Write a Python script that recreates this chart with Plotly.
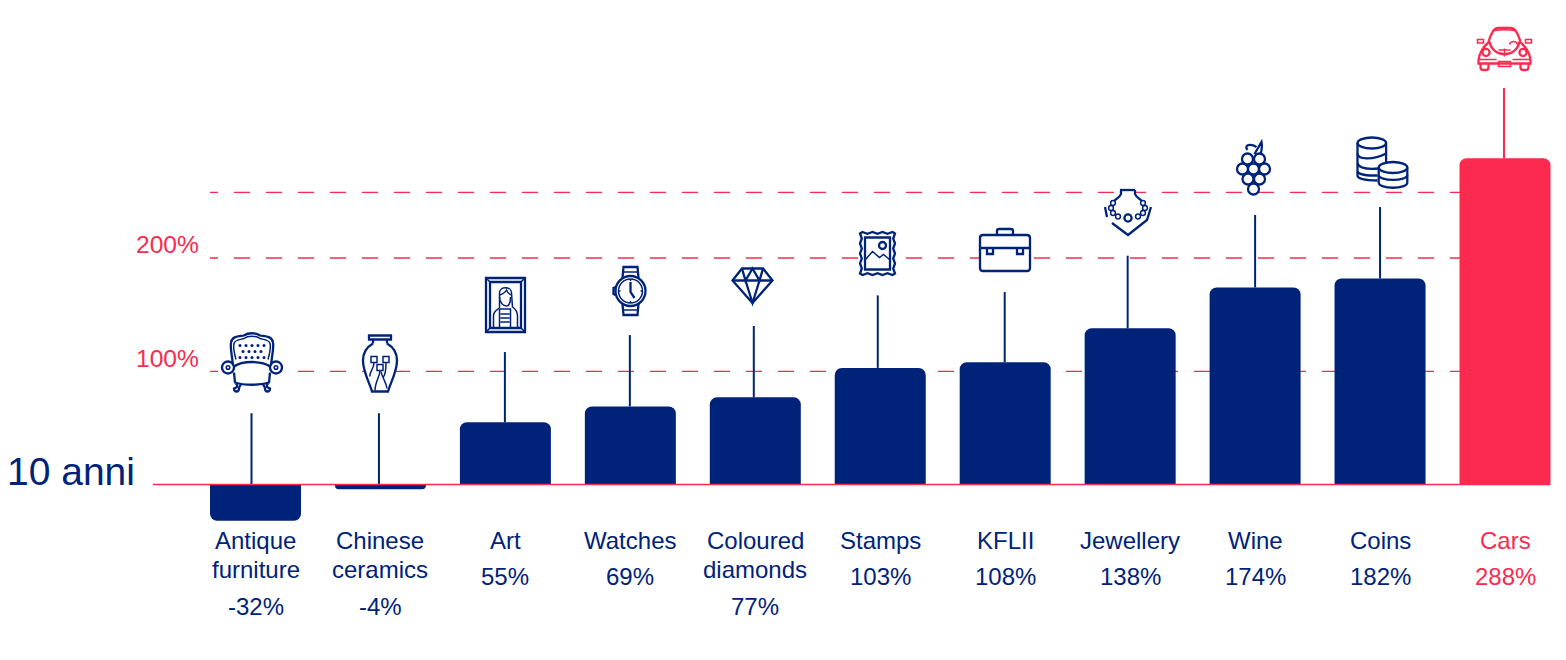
import re
import plotly.graph_objects as go

# 数据
categories = ['Antique<br>furniture', 'Chinese<br>ceramics', 'Art', 'Watches', 'Coloured<br>diamonds',
              'Stamps', 'KFLII', 'Jewellery', 'Wine', 'Coins', 'Cars']
values = [-32, -4, 55, 69, 77, 103, 108, 138, 174, 182, 288]
value_labels = ['-32%', '-4%', '55%', '69%', '77%', '103%', '108%', '138%', '174%', '182%', '288%']
stem_tops = [63, 63, 117, 132, 140, 167, 170, 202, 238, 245, 350]
ref_lines = [100, 200, 258]
tick_values = [100, 200]
tick_labels = ['100%', '200%']

W, H = 1566, 660
NAVY = '#00237a'
PINK = '#fb2a4e'
FONT = 'Liberation Sans'

# 比例: 0% 在 y=484.5, 每 1% = 1.133px, 柱间距 124.95px
Y_ZERO, Y_SCALE = 484.6, 1.133
X_ZERO, X_STEP = 255.5, 124.95
stem_shift = [-4, -1.5, -0.5, -0.5, -1.5, -2.5, -0.5, -2.5, 0, 0, -1]  # px


def px2x(px):
    return (px - X_ZERO) / X_STEP


colors = [PINK if c == 'Cars' else NAVY for c in categories]
idx = list(range(len(categories)))


# ---------- 图标小工具 (局部坐标, y 向下, 单位 px) ----------
def circle(cx, cy, r, ry=None):
    ry = r if ry is None else ry
    k = 0.5523
    return (f'M{cx - r},{cy} C{cx - r},{cy - k * ry} {cx - k * r},{cy - ry} {cx},{cy - ry} '
            f'C{cx + k * r},{cy - ry} {cx + r},{cy - k * ry} {cx + r},{cy} '
            f'C{cx + r},{cy + k * ry} {cx + k * r},{cy + ry} {cx},{cy + ry} '
            f'C{cx - k * r},{cy + ry} {cx - r},{cy + k * ry} {cx - r},{cy} Z')


def rect(x0, y0, x1, y1):
    return f'M{x0},{y0} L{x1},{y0} L{x1},{y1} L{x0},{y1} Z'


def flip(path):
    # pixel 模式下 y 向上, 这里翻转
    return re.sub(r'(-?[\d.]+),(-?[\d.]+)', lambda m: f'{m[1]},{-float(m[2]):.2f}', path)


def stamp_edge():
    pts = []
    for i in range(7):
        pts.append((-15 + i * 5, -21.5 + (i % 2) * 1.8))
    for i in range(9):
        pts.append((17.5 - (i % 2) * 1.8, -20 + i * 5))
    for i in range(7):
        pts.append((15 - i * 5, 21.5 - (i % 2) * 1.8))
    for i in range(9):
        pts.append((-17.5 + (i % 2) * 1.8, 20 - i * 5))
    return 'M' + ' L'.join(f'{x},{y}' for x, y in pts) + ' Z'


chair_dots = ' '.join(circle(x, y, 0.8) for y, xs in [(-17, (-12, -6, 0, 6, 12)), (-11, (-9, -3, 3, 9)),
                                                      (-5, (-12, -6, 0, 6, 12))] for x in xs)
grape_xy = [(-6, -8), (6, -8), (-11, 2), (0, 2), (11, 2), (-5.5, 12), (6, 12), (0, 22)]

# (cx, cy, color, white silhouettes, strokes thick, strokes thin)
icons = [
    (252, 362.5, NAVY,
     ['M-19,3 C-20,-8 -22,-14 -21,-20 C-20,-27 -12,-26 -8,-27 C-4,-30 4,-30 8,-27 C12,-26 20,-27 21,-20 '
      'C22,-14 20,-8 19,3 L24,-1 C31,-1 32,10 26,12 L19,20 L17,28 L-17,28 L-19,20 L-26,12 C-32,10 -31,-1 -24,-1 Z'],
     ['M-19,3 C-20,-8 -22,-14 -21,-20 C-20,-27 -12,-26 -8,-27 C-4,-30 4,-30 8,-27 C12,-26 20,-27 21,-20 '
      'C22,-14 20,-8 19,3',
      'M-18,4 C-10,-2 10,-2 18,4',
      circle(-24, 5, 6), circle(24, 5, 6),
      'M-18,10 L-17,20 C-8,23 8,23 17,20 L18,10',
      'M-16,21 C-13,25 -16,25 -18,26 C-18,30 -13,30 -13,26 C-13,24 -12,23 -11,22',
      'M16,21 C13,25 16,25 18,26 C18,30 13,30 13,26 C13,24 12,23 11,22'],
     ['M-16,-3 C-18,-10 -19,-15 -18,-19 C-17,-23 -11,-23 -8,-24 C-4,-27 4,-27 8,-24 C11,-23 17,-23 18,-19 '
      'C19,-15 18,-10 16,-3',
      circle(-24, 5, 1.8), circle(24, 5, 1.8), chair_dots]),
    (380, 363.5, NAVY,
     ['M-7,-24 L-11,-24 L-11,-28 L11,-28 L11,-24 L7,-24 L7,-20 C14,-16 17,-10 17,-3 C17,8 11,18 8,28 '
      'L-8,28 C-11,18 -17,8 -17,-3 C-17,-10 -14,-16 -7,-20 Z'],
     ['M-11,-28 L11,-28 L11,-24 L-11,-24 Z', 'M-7,-24 L-7,-20 M7,-24 L7,-20',
      'M-7,-20 C-14,-16 -17,-10 -17,-3 C-17,8 -11,18 -8,28 L8,28 C11,18 17,8 17,-3 C17,-10 14,-16 7,-20'],
     [rect(-9, -7, -3, -1), rect(3, -7, 9, -1), rect(-3, 1, 3, 7),
      'M-6,-1 C-6,6 -11,8 -10,13', 'M0,7 C0,13 -5,18 -5,27', 'M3,14 C5,12 6,8 6,-1', 'M1,8 C2,14 6,18 7,25']),
    (505.5, 305, NAVY,
     [rect(-19.5, -27, 19.5, 27)],
     [rect(-19.5, -27, 19.5, 27), rect(-15.5, -23, 15.5, 23)],
     ['M-19.5,-27 L-15.5,-23 M19.5,-27 L15.5,-23 M-19.5,27 L-15.5,23 M19.5,27 L15.5,23',
      'M-12,22 L-12,11 C-12,6 -9,5 -6,3 L-6,-12 C-6,-19 6,-19 6,-12 L7,2 C10,4 12,6 12,11 L12,22',
      'M-6,-10 C-2,-11 0,-13 1,-15 C2,-12 3,-11 6,-10 M-6,-8 C-6,-2 -2,1 1,1 C3,1 5,-2 5,-8',
      'M-6,4 L5,4 L5,22 M-6,4 L-6,22 M-5,9 L4,9 M-5,13 L4,13 M-5,17 L4,17']),
    (630.5, 291, NAVY,
     ['M-8,-12 L-7,-24 L7,-24 L8,-12 L16,0 L8,12 L7,24 L-7,24 L-8,12 L-17,0 Z'],
     [circle(0, 0, 15), 'M-8,-13 L-7,-24 L7,-24 L8,-13 M-8,13 L-7,24 L7,24 L8,13',
      'M-15,-4 L-17,-3 L-17,3 L-15,4', 'M0,-9 L0,1 L4,7'],
     [circle(0, 0, 12), 'M-7,-19 L7,-19 M-7,19 L7,19',
      'M0,-12 L0,-10 M0,10 L0,12 M-12,0 L-10,0 M10,0 L12,0']),
    (752.5, 285.5, NAVY,
     ['M-10.5,-17 L10.5,-17 L20,-5 L0,17.5 L-20,-5 Z'],
     ['M-10.5,-17 L10.5,-17 L20,-5 L0,17.5 L-20,-5 Z', 'M-20,-5 L20,-5',
      'M-10.5,-17 L-7,-5 L0,-17 L7,-5 L10.5,-17', 'M-7,-5 L0,17.5 L7,-5'],
     []),
    (877.5, 253.5, NAVY,
     [rect(-17.5, -21.5, 17.5, 21.5)],
     [stamp_edge(), rect(-12.5, -16, 12.5, 16), circle(5, -8, 3.5)],
     ['M-12,6 L-5,-2 L2,4 L6,1 L12,6']),
    (1005, 250, NAVY,
     ['M-25,-15 L25,-15 L25,21 L-25,21 Z M-9,-15 L-9,-21 L9,-21 L9,-15 Z'],
     ['M-22,-15 L22,-15 Q25,-15 25,-12 L25,18 Q25,21 22,21 L-22,21 Q-25,21 -25,18 L-25,-12 Q-25,-15 -22,-15 Z',
      'M-8,-15 L-8,-19 Q-8,-21 -6,-21 L6,-21 Q8,-21 8,-19 L8,-15',
      'M-25,-2 L25,-2', 'M-18,-2 L-18,4 L-12,4 L-12,-2', 'M12,-2 L12,4 L18,4 L18,-2'],
     []),
    (1128, 213, NAVY,
     ['M-8,-23 L7,-23 L10,-12 L23,-6 L19,7 L0,22 L-16,10 L-23,-6 L-10,-12 Z'],
     ['M-23,-6 L-21,4', 'M-16,10 L0,22 L19,7 L23,-6', 'M-8,-23 L7,-23', 'M-7,-23 L-7,-19 C-8,-16 -11,-15 -14,-12',
      'M7,-23 L7,-19 C8,-16 11,-15 14,-12', circle(0, 5, 3.6)],
     [circle(-15, -10, 2.4), circle(-17, -5, 2.4), circle(-15, 0, 2.4), circle(-10, 3.5, 2.4),
      circle(15, -10, 2.4), circle(17, -5, 2.4), circle(15, 0, 2.4), circle(10, 3.5, 2.4)]),
    (1253.5, 167, NAVY,
     [circle(x, y, 5.5) for x, y in grape_xy],
     [circle(x, y, 5.5) for x, y in grape_xy] + ['M1,-13 L8,-25 C9,-20 8,-16 7,-12', 'M-6,-17 C-10,-22 -3,-24 3,-20'],
     []),
    (1382.5, 162.5, NAVY,
     ['M-25,-19.5 C-25,-27 3.6,-27 3.6,-19.5 L3.6,0 L-3,18 L-25,14 Z',
      'M-3.8,5 C-3.8,-2 24.8,-2 24.8,5 L24.8,20 C24.8,27 -3.8,27 -3.8,20 Z'],
     [circle(-10.7, -19.5, 14.3, 5.5), 'M-25,-19.5 L-25,13 C-25,16 -18,18 -5,18',
      'M3.6,-19.5 L3.6,0',
      'M-25,-9 C-25,-3 -10,-2 3.6,-9', 'M-25,1 C-23,6 -15,7 -4,6', 'M-25,9 C-23,13 -14,13 -5,13',
      circle(10.5, 5, 14.3, 5.5), 'M-3.8,5 L-3.8,20 C-3.8,27 24.8,27 24.8,20 L24.8,5',
      'M-3.8,12.5 C-3.8,19 24.8,19 24.8,12.5'],
     []),
    (1504.5, 49.5, PINK,
     ['M-15,-8 C-12,-16 -10,-21.5 -5,-21.5 L5,-21.5 C10,-21.5 12,-16 15,-8 L26,10 L26,14 L16,21 L-16,21 L-26,14 L-26,10 Z'],
     ['M-16,-8 C-13,-16 -11,-21.5 -6,-21.5 L6,-21.5 C11,-21.5 13,-16 16,-8',
      'M-15,-8 C-20,-4 -25,2 -26,11 L-26,14 L26,14 L26,11 C25,2 20,-4 15,-8',
      'M-15,-8 C-12,9 12,9 15,-8',
      circle(-18.5, 3, 3.6), circle(18.5, 3, 3.6),
      'M-24,14 L-24,18 Q-24,20.5 -21,20.5 L-19,20.5 Q-16,20.5 -16,18 L-16,14',
      'M24,14 L24,18 Q24,20.5 21,20.5 L19,20.5 Q16,20.5 16,18 L16,14'],
     ['M-11,-19 C-4,-20 4,-20 11,-19', 'M0,-1 L0,7', 'M-6,0.5 L6,0.5', 'M5,-5 C6,-9 12,-9 13,-5',
      rect(-27, -10, -21, -6.5), rect(21, -10, 27, -6.5),
      'M-26,10 L-8,10 M8,10 L26,10', rect(-6, 12, 6, 17)]),
]

# ---------- 绘图 ----------
fig = go.Figure()

fig.add_trace(go.Bar(x=idx, y=values, width=91 / X_STEP, marker=dict(color=colors, line=dict(width=0))))

for i, v, top, shift, c in zip(idx, values, stem_tops, stem_shift, colors):
    fig.add_trace(go.Scatter(x=[i + shift / X_STEP] * 2, y=[max(v, 0), top], mode='lines',
                             line=dict(color=c, width=2)))

shapes = []
for v in ref_lines:
    # 从右往左画, 让虚线相位和原图一致
    shapes.append(dict(type='line', layer='below', xref='x', yref='y', x0=px2x(1466), x1=px2x(210), y0=v, y1=v,
                       line=dict(color=PINK, width=1.3, dash='16px,16px')))
shapes.append(dict(type='line', layer='above', xref='x', yref='y', x0=px2x(153), x1=px2x(1550), y0=0, y1=0,
                   line=dict(color=PINK, width=1.5)))

for cx, cy, color, fills, thick, thin in icons:
    base = dict(type='path', layer='above', xref='paper', yref='paper', xsizemode='pixel', ysizemode='pixel',
                xanchor=cx / W, yanchor=1 - cy / H)
    for p in fills:
        shapes.append(dict(base, path=flip(p), fillcolor='white', line=dict(width=0)))
    for p in thick:
        shapes.append(dict(base, path=flip(p), line=dict(color=color, width=2.3)))
    for p in thin:
        shapes.append(dict(base, path=flip(p), line=dict(color=color, width=1.5)))

annotations = []
for i, name, label, c in zip(idx, categories, value_labels, colors):
    lines = name.split('<br>')
    for k, line in enumerate(lines):
        annotations.append(dict(x=i, y=0, xref='x', yref='y', text=line, showarrow=False, yanchor='top',
                                yshift=-(40 + 29 * k), font=dict(family=FONT, size=24, color=c)))
    annotations.append(dict(x=i, y=0, xref='x', yref='y', text=label, showarrow=False, yanchor='middle',
                            yshift=-(121.5 if len(lines) == 2 else 91.5),
                            font=dict(family=FONT, size=24, color=c)))
for v, label, dy in zip(tick_values, tick_labels, [13, 14]):
    annotations.append(dict(x=px2x(201), y=v, xref='x', yref='y', text=label, showarrow=False, xanchor='right',
                            yanchor='middle', yshift=dy, font=dict(family=FONT, size=24.6, color=PINK)))
annotations.append(dict(x=px2x(5), y=0, xref='x', yref='y', text='10 anni', showarrow=False, xanchor='left',
                        yanchor='middle', yshift=13, font=dict(family=FONT, size=39, color=NAVY)))

fig.update_layout(
    width=W, height=H,
    margin=dict(l=0, r=0, t=0, b=0),
    paper_bgcolor='white', plot_bgcolor='white',
    showlegend=False, hovermode=False,
    barcornerradius=7,
    shapes=shapes, annotations=annotations,
    xaxis=dict(range=[px2x(0), px2x(W)], visible=False),
    yaxis=dict(range=[(Y_ZERO - H) / Y_SCALE, Y_ZERO / Y_SCALE], visible=False),
)

fig.write_html("out.html", config=dict(displayModeBar=False), post_script="document.body.style.margin='0';")
